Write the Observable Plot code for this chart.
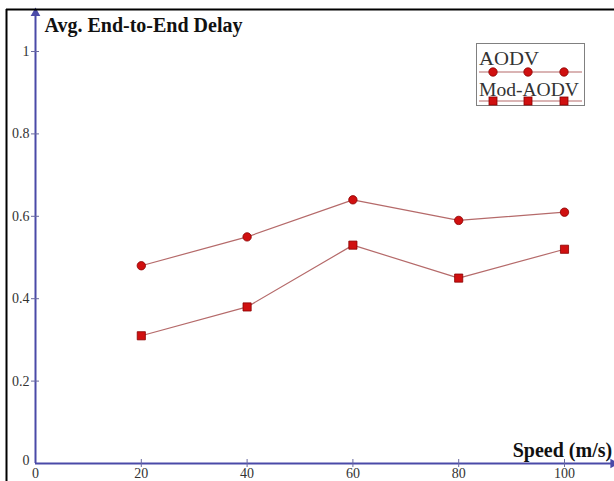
<!DOCTYPE html>
<html>
<head>
<meta charset="utf-8">
<script src="https://cdn.jsdelivr.net/npm/d3@7"></script>
<script src="https://cdn.jsdelivr.net/npm/@observablehq/plot@0.6"></script>
<style>
  html, body { margin: 0; padding: 0; background: #fff; }
  #chart { position: relative; width: 614px; height: 481px; overflow: hidden; }
</style>
</head>
<body>
<div id="chart"></div>
<script>
// ---- data ----
const speeds = [20, 40, 60, 80, 100];
const aodv = [0.48, 0.55, 0.64, 0.59, 0.61];
const modAodv = [0.31, 0.38, 0.53, 0.45, 0.52];
const seriesNames = ["AODV", "Mod-AODV"];
const xTicks = [0, 20, 40, 60, 80, 100];
const yTicks = [0, 0.2, 0.4, 0.6, 0.8, 1];
const yTickLabels = ["0", "0.2", "0.4", "0.6", "0.8", "1"];
const yLabel = "Avg. End-to-End Delay";
const xLabel = "Speed (m/s)";

// ---- styles / layout ----
const axisColor = "#4a4aa8";
const lineColor = "#b56a6a";
const markFill = "#d01010";
const markStroke = "#8a0000";
const serif = "'Liberation Serif', 'Times New Roman', serif";
const xAxisEnd = 109.2;
const yAxisEnd = 1.093;

const rowsA = speeds.map((s, i) => ({speed: s, value: aodv[i]}));
const rowsM = speeds.map((s, i) => ({speed: s, value: modAodv[i]}));
const yTickRows = yTicks.map((v, i) => ({v, label: yTickLabels[i]}));

const plot = Plot.plot({
  width: 614,
  height: 481,
  marginLeft: 35,
  marginRight: 50,
  marginTop: 51,
  marginBottom: 18,
  style: {fontFamily: serif, background: "#fff", overflow: "visible"},
  x: {domain: [0, 100], axis: null},
  y: {domain: [0, 1], axis: null},
  marks: [
    // axis lines
    Plot.ruleY([0], {x1: 0, x2: xAxisEnd, stroke: axisColor, strokeWidth: 2}),
    Plot.ruleX([0], {y1: 0, y2: yAxisEnd, stroke: axisColor, strokeWidth: 2}),
    Plot.dot([0], {x: xAxisEnd, y: 0, symbol: "triangle", r: 3.6, fill: axisColor, stroke: "none", rotate: 90}),
    Plot.dot([0], {x: 0, y: yAxisEnd, symbol: "triangle", r: 3.6, fill: axisColor, stroke: "none"}),
    // tick marks crossing the axes
    Plot.ruleX(xTicks.slice(1), {x: d => d, y1: 0, y2: 0, insetTop: -4, insetBottom: -4, stroke: "#6a6aa0", strokeWidth: 1}),
    Plot.ruleY(yTicks.slice(1), {y: d => d, x1: 0, x2: 0, insetLeft: -4, insetRight: -4, stroke: "#6a6aa0", strokeWidth: 1}),
    // tick labels
    Plot.text(xTicks, {x: d => d, y: 0, text: d => String(d), dy: 10, fontSize: 14, fill: "#333"}),
    Plot.text(yTickRows.slice(1), {x: 0, y: "v", text: "label", dx: -6, textAnchor: "end", fontSize: 14, fill: "#333"}),
    Plot.text(yTickRows.slice(0, 1), {x: 0, y: "v", text: "label", dx: -6, dy: -3, textAnchor: "end", fontSize: 14, fill: "#333"}),
    // axis titles
    Plot.text([yLabel], {x: 0, y: yAxisEnd, text: d => d, dx: 9, dy: 5, textAnchor: "start", lineAnchor: "top", fontSize: 20, fontWeight: "bold", fill: "#111"}),
    Plot.text([xLabel], {x: xAxisEnd, y: 0, text: d => d, dx: -1, dy: -7, textAnchor: "end", lineAnchor: "bottom", fontSize: 20, fontWeight: "bold", fill: "#111"}),
    // series
    Plot.line(rowsA, {x: "speed", y: "value", stroke: lineColor, strokeWidth: 1.2}),
    Plot.line(rowsM, {x: "speed", y: "value", stroke: lineColor, strokeWidth: 1.2}),
    Plot.dot(rowsA, {x: "speed", y: "value", symbol: "circle", r: 4.2, fill: markFill, stroke: markStroke, strokeWidth: 0.8}),
    Plot.dot(rowsM, {x: "speed", y: "value", symbol: "square", r: 4.6, fill: markFill, stroke: markStroke, strokeWidth: 0.8})
  ]
});

document.getElementById("chart").appendChild(plot);

// outer frame (top & left edges visible) and legend
const svg = d3.select(plot);
svg.append("line").attr("x1", 6).attr("x2", 614).attr("y1", 9.5).attr("y2", 9.5).attr("stroke", "#000").attr("stroke-width", 2);
svg.append("line").attr("x1", 6.5).attr("x2", 6.5).attr("y1", 9).attr("y2", 481).attr("stroke", "#000").attr("stroke-width", 2);

const lg = svg.append("g").attr("font-family", serif).attr("text-anchor", "start");
lg.append("rect").attr("x", 476.5).attr("y", 43.5).attr("width", 108).attr("height", 62)
  .attr("fill", "#fff").attr("stroke", "#808080").attr("stroke-width", 1);
const legendX = [493, 528, 564];
seriesNames.forEach((name, k) => {
  const baseY = 65 + k * 31;
  const lineY = 72 + k * 29;
  lg.append("text").attr("x", 479).attr("y", baseY).attr("font-size", 19).attr("fill", "#333")
    .attr("textLength", k === 0 ? 60 : 100).attr("lengthAdjust", "spacingAndGlyphs").text(name);
  lg.append("line").attr("x1", 479).attr("x2", 582).attr("y1", lineY).attr("y2", lineY).attr("stroke", lineColor).attr("stroke-width", 1.2);
  legendX.forEach(x => {
    if (k === 0) {
      lg.append("circle").attr("cx", x).attr("cy", lineY).attr("r", 4.2).attr("fill", markFill).attr("stroke", markStroke).attr("stroke-width", 0.8);
    } else {
      lg.append("rect").attr("x", x - 4).attr("y", lineY - 4).attr("width", 8).attr("height", 8).attr("fill", markFill).attr("stroke", markStroke).attr("stroke-width", 0.8);
    }
  });
});
</script>
</body>
</html>
